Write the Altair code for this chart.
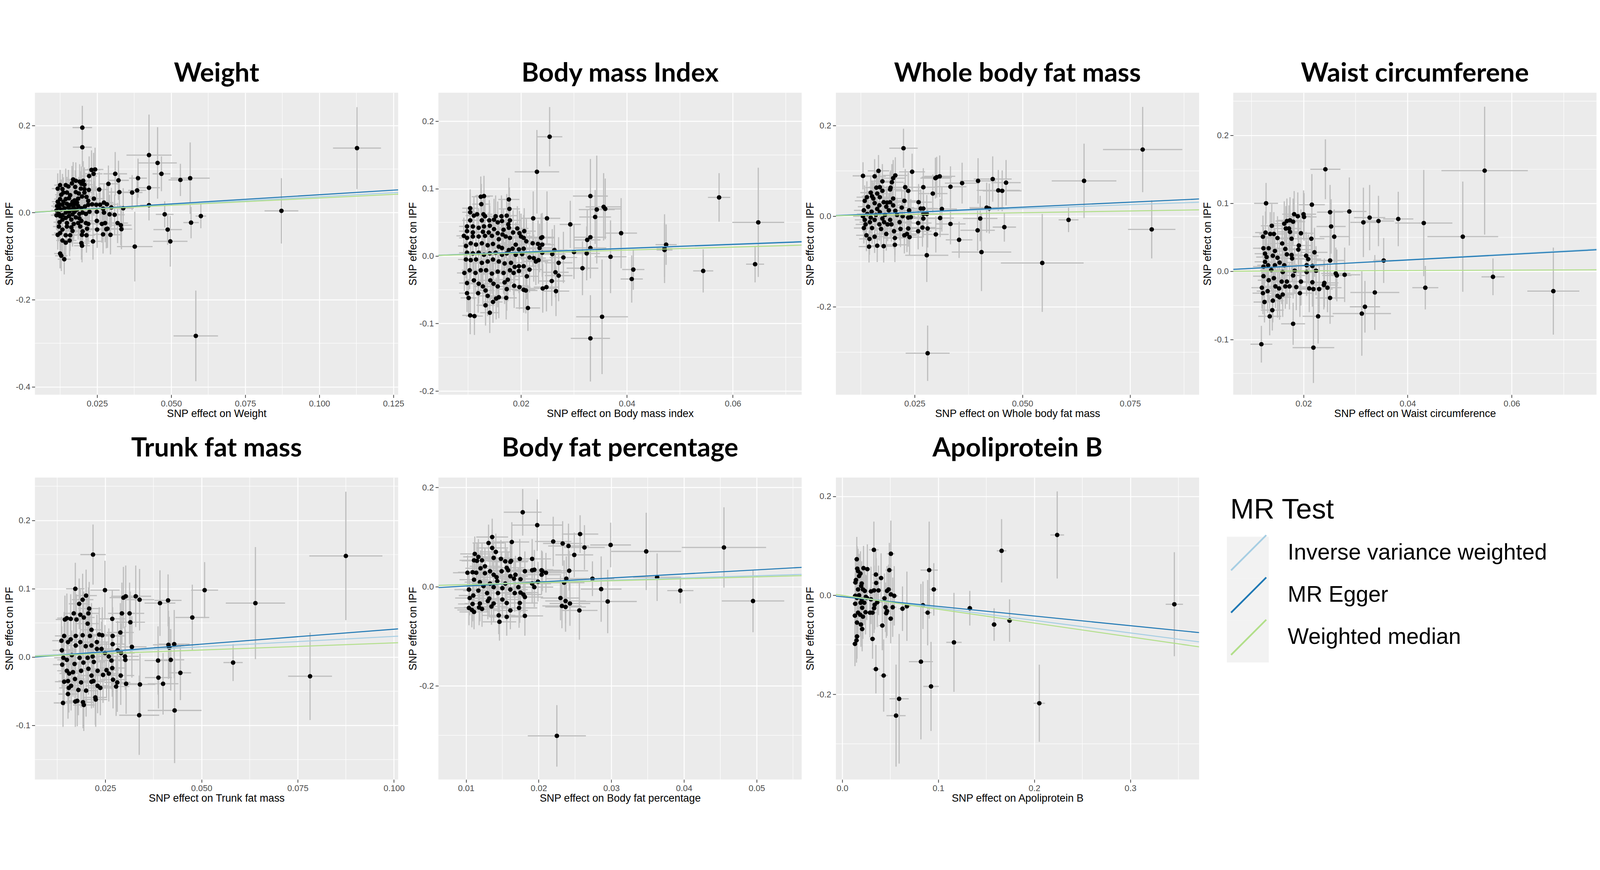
import altair as alt
import pandas as pd

PANEL_TITLES = ["Weight", "Body mass Index", "Whole body fat mass", "Waist circumferene",
                "Trunk fat mass", "Body fat percentage", "Apoliprotein B"]
X_TITLES = ["SNP effect on Weight", "SNP effect on Body mass index",
            "SNP effect on Whole body fat mass", "SNP effect on Waist circumference",
            "SNP effect on Trunk fat mass", "SNP effect on Body fat percentage",
            "SNP effect on Apoliprotein B"]
Y_TITLE = "SNP effect on IPF"

X_DOMAINS = [[0.0040, 0.1266], [0.0044, 0.0730], [0.0067, 0.0910], [0.0065, 0.0763],
             [0.0067, 0.1011], [0.0062, 0.0562], [-0.0067, 0.3716]]
Y_DOMAINS = [[-0.418, 0.275], [-0.2056, 0.2422], [-0.3935, 0.2722], [-0.1812, 0.2624],
             [-0.179, 0.2627], [-0.389, 0.220], [-0.372, 0.238]]
X_TICKS = [[0.025, 0.05, 0.075, 0.1, 0.125], [0.02, 0.04, 0.06], [0.025, 0.05, 0.075],
           [0.02, 0.04, 0.06], [0.025, 0.05, 0.075, 0.1], [0.01, 0.02, 0.03, 0.04, 0.05],
           [0.0, 0.1, 0.2, 0.3]]
X_MINOR = [[0.0125, 0.0375, 0.0625, 0.0875, 0.1125], [0.01, 0.03, 0.05, 0.07],
           [0.0125, 0.0375, 0.0625, 0.0875], [0.01, 0.03, 0.05, 0.07],
           [0.0125, 0.0375, 0.0625, 0.0875], [0.015, 0.025, 0.035, 0.045, 0.055],
           [0.05, 0.15, 0.25, 0.35]]
X_FORMATS = [".3f", ".2f", ".3f", ".2f", ".3f", ".2f", ".1f"]
Y_TICKS = [[-0.4, -0.2, 0.0, 0.2], [-0.2, -0.1, 0.0, 0.1, 0.2], [-0.2, 0.0, 0.2],
           [-0.1, 0.0, 0.1, 0.2], [-0.1, 0.0, 0.1, 0.2], [-0.2, 0.0, 0.2], [-0.2, 0.0, 0.2]]
Y_MINOR = [[-0.3, -0.1, 0.1], [-0.15, -0.05, 0.05, 0.15], [-0.3, -0.1, 0.1],
           [-0.15, -0.05, 0.05, 0.15, 0.25], [-0.15, -0.05, 0.05, 0.15, 0.25],
           [-0.3, -0.1, 0.1], [-0.3, -0.1, 0.1]]

METHODS = ["Inverse variance weighted", "MR Egger", "Weighted median"]
METHOD_COLORS = ["#A6CEE3", "#1F78B4", "#B2DF8A"]
KEY_IDS = ["key IVW", "key Egger", "key WM"]
KEY_BACKGROUND = ["#F2F2F2", "#F2F2F2", "#F2F2F2"]
IVW_SLOPE = [0.365, 0.299, 0.34, 0.43, 0.303, 0.438, -0.253]
EGGER_SLOPE = [0.42, 0.293, 0.44, 0.411, 0.4375, 0.816, -0.195]
EGGER_INTERCEPT = [-0.001, -0.0003, -0.002, 0.0003, -0.0029, -0.007, -0.0028]
WM_SLOPE = [0.335, 0.222, 0.155, 0.031, 0.208, 0.393, -0.28]

# (beta exposure, beta outcome, se exposure, se outcome)
WEIGHT_SNPS = [
    (0.0200, 0.195, 0.0033, 0.050), (0.0200, 0.150, 0.0032, 0.045), (0.0425, 0.132, 0.0076, 0.093),
    (0.0454, 0.114, 0.0065, 0.082), (0.0467, 0.089, 0.0030, 0.040), (0.0388, 0.079, 0.0030, 0.045),
    (0.0531, 0.075, 0.0040, 0.037), (0.0564, 0.079, 0.0066, 0.082), (0.1127, 0.148, 0.0081, 0.094),
    (0.0872, 0.004, 0.0057, 0.075), (0.0583, -0.283, 0.0075, 0.104), (0.0478, -0.004, 0.0030, 0.030),
    (0.0600, -0.008, 0.0018, 0.028), (0.0567, -0.023, 0.0026, 0.036), (0.0488, -0.039, 0.0048, 0.035),
    (0.0497, -0.066, 0.0058, 0.058), (0.0377, -0.078, 0.0060, 0.080), (0.0425, 0.057, 0.0037, 0.040),
    (0.0425, 0.017, 0.0030, 0.035), (0.0385, 0.051, 0.0030, 0.035),
    (0.0231, 0.098, 0.0030, 0.045), (0.0243, 0.099, 0.0028, 0.050), (0.0238, 0.089, 0.0030, 0.048),
    (0.0223, 0.084, 0.0027, 0.045), (0.0311, 0.089, 0.0040, 0.050), (0.0322, 0.074, 0.0035, 0.045),
    (0.0288, 0.066, 0.0033, 0.042), (0.0257, 0.053, 0.0030, 0.040), (0.0325, 0.047, 0.0035, 0.040),
    (0.0222, 0.052, 0.0028, 0.040), (0.0368, 0.046, 0.0035, 0.040), (0.0169, 0.076, 0.0025, 0.040),
    (0.0178, 0.073, 0.0026, 0.042), (0.0191, 0.071, 0.0027, 0.040), (0.0203, 0.073, 0.0028, 0.045),
    (0.0197, 0.066, 0.0027, 0.040), (0.0207, 0.064, 0.0028, 0.040), (0.0125, 0.063, 0.0020, 0.035),
    (0.0117, 0.055, 0.0020, 0.035), (0.0144, 0.063, 0.0022, 0.038), (0.0153, 0.060, 0.0023, 0.038),
    (0.0165, 0.067, 0.0024, 0.040), (0.0176, 0.059, 0.0025, 0.038), (0.0195, 0.055, 0.0027, 0.040),
    (0.0207, 0.054, 0.0028, 0.040), (0.0133, 0.054, 0.0021, 0.035), (0.0136, 0.046, 0.0021, 0.035),
    (0.0148, 0.046, 0.0022, 0.036), (0.0159, 0.040, 0.0023, 0.036), (0.0178, 0.047, 0.0025, 0.038),
    (0.0188, 0.044, 0.0026, 0.038), (0.0207, 0.046, 0.0028, 0.040), (0.0214, 0.036, 0.0028, 0.040),
    (0.0199, 0.037, 0.0027, 0.038), (0.0239, 0.032, 0.0030, 0.040), (0.0220, 0.027, 0.0028, 0.040),
    (0.0186, 0.032, 0.0026, 0.038), (0.0174, 0.028, 0.0025, 0.036), (0.0129, 0.041, 0.0021, 0.035),
    (0.0125, 0.031, 0.0020, 0.034), (0.0121, 0.020, 0.0020, 0.034), (0.0115, 0.015, 0.0020, 0.034),
    (0.0136, 0.025, 0.0021, 0.035), (0.0148, 0.020, 0.0022, 0.035), (0.0161, 0.018, 0.0023, 0.036),
    (0.0171, 0.012, 0.0024, 0.036), (0.0186, 0.015, 0.0026, 0.038), (0.0197, 0.010, 0.0027, 0.038),
    (0.0209, 0.014, 0.0028, 0.040), (0.0220, 0.018, 0.0028, 0.040), (0.0233, 0.019, 0.0030, 0.042),
    (0.0247, 0.018, 0.0030, 0.042), (0.0260, 0.018, 0.0031, 0.042), (0.0273, 0.023, 0.0032, 0.044),
    (0.0283, 0.019, 0.0033, 0.044), (0.0298, 0.012, 0.0034, 0.045), (0.0270, 0.009, 0.0032, 0.044),
    (0.0338, 0.010, 0.0036, 0.046), (0.0113, 0.005, 0.0019, 0.033), (0.0121, -0.003, 0.0020, 0.034),
    (0.0133, -0.006, 0.0021, 0.035), (0.0144, 0.000, 0.0022, 0.035), (0.0155, 0.002, 0.0023, 0.036),
    (0.0174, 0.002, 0.0025, 0.036), (0.0190, -0.003, 0.0026, 0.038), (0.0201, 0.000, 0.0027, 0.038),
    (0.0212, -0.003, 0.0028, 0.040), (0.0224, 0.002, 0.0029, 0.040), (0.0249, 0.002, 0.0030, 0.042),
    (0.0273, 0.000, 0.0032, 0.044), (0.0292, -0.004, 0.0033, 0.045), (0.0309, -0.005, 0.0034, 0.046),
    (0.0133, -0.016, 0.0021, 0.035), (0.0144, -0.012, 0.0022, 0.035), (0.0163, -0.016, 0.0024, 0.036),
    (0.0178, -0.011, 0.0025, 0.037), (0.0190, -0.013, 0.0026, 0.038), (0.0197, -0.019, 0.0027, 0.038),
    (0.0212, -0.024, 0.0028, 0.040), (0.0220, -0.026, 0.0028, 0.040), (0.0249, -0.019, 0.0030, 0.042),
    (0.0266, -0.026, 0.0032, 0.043), (0.0277, -0.024, 0.0032, 0.044), (0.0319, -0.024, 0.0035, 0.046),
    (0.0330, -0.029, 0.0036, 0.046), (0.0332, -0.038, 0.0036, 0.046), (0.0285, -0.037, 0.0033, 0.044),
    (0.0281, -0.038, 0.0033, 0.044), (0.0250, -0.039, 0.0030, 0.042), (0.0216, -0.037, 0.0028, 0.040),
    (0.0201, -0.043, 0.0027, 0.038), (0.0193, -0.032, 0.0026, 0.038), (0.0123, -0.022, 0.0020, 0.034),
    (0.0121, -0.032, 0.0020, 0.034), (0.0133, -0.039, 0.0021, 0.035), (0.0148, -0.032, 0.0022, 0.035),
    (0.0163, -0.034, 0.0024, 0.036), (0.0167, -0.042, 0.0024, 0.036), (0.0117, -0.051, 0.0020, 0.034),
    (0.0125, -0.047, 0.0020, 0.034), (0.0144, -0.052, 0.0022, 0.035), (0.0159, -0.052, 0.0023, 0.036),
    (0.0199, -0.051, 0.0027, 0.038), (0.0214, -0.052, 0.0028, 0.040), (0.0270, -0.050, 0.0032, 0.044),
    (0.0295, -0.051, 0.0034, 0.045), (0.0133, -0.064, 0.0021, 0.035), (0.0144, -0.069, 0.0022, 0.035),
    (0.0157, -0.064, 0.0023, 0.036), (0.0197, -0.070, 0.0027, 0.038), (0.0199, -0.076, 0.0027, 0.038),
    (0.0236, -0.066, 0.0030, 0.042), (0.0125, -0.094, 0.0020, 0.034), (0.0129, -0.099, 0.0021, 0.035),
    (0.0139, -0.107, 0.0022, 0.035), (0.0121, 0.012, 0.0020, 0.034), (0.0129, 0.007, 0.0021, 0.035),
    (0.0140, 0.010, 0.0022, 0.035), (0.0153, 0.012, 0.0023, 0.036), (0.0163, 0.007, 0.0024, 0.036),
    (0.0174, 0.020, 0.0025, 0.036), (0.0133, 0.018, 0.0021, 0.035), (0.0144, 0.031, 0.0022, 0.035),
    (0.0155, 0.033, 0.0023, 0.036), (0.0167, 0.025, 0.0024, 0.036), (0.0182, 0.023, 0.0026, 0.038),
    (0.0117, 0.025, 0.0020, 0.034), (0.0125, -0.008, 0.0020, 0.034), (0.0155, -0.008, 0.0023, 0.036),
    (0.0167, -0.004, 0.0024, 0.036), (0.0113, -0.006, 0.0019, 0.033), (0.0182, 0.007, 0.0026, 0.038),
    (0.0148, -0.024, 0.0022, 0.035), (0.0171, -0.026, 0.0024, 0.036), (0.0186, -0.024, 0.0026, 0.038),
]

BMI_SNPS = [
    (0.0254, 0.177, 0.0024, 0.044), (0.0230, 0.125, 0.0042, 0.062), (0.0331, 0.089, 0.0033, 0.055),
    (0.0343, 0.069, 0.0034, 0.080), (0.0340, 0.058, 0.0030, 0.040), (0.0356, 0.073, 0.0034, 0.050),
    (0.0359, 0.070, 0.0030, 0.045), (0.0389, 0.034, 0.0030, 0.052), (0.0293, 0.047, 0.0020, 0.035),
    (0.0249, 0.056, 0.0025, 0.040), (0.0223, 0.056, 0.0022, 0.040), (0.0325, 0.024, 0.0025, 0.045),
    (0.0331, 0.028, 0.0030, 0.050), (0.0331, 0.012, 0.0030, 0.045), (0.0324, 0.004, 0.0025, 0.040),
    (0.0300, 0.006, 0.0030, 0.040), (0.0369, -0.001, 0.0030, 0.054), (0.0316, -0.018, 0.0030, 0.040),
    (0.0412, -0.020, 0.0021, 0.030), (0.0409, -0.034, 0.0021, 0.035), (0.0353, -0.090, 0.0049, 0.085),
    (0.0331, -0.122, 0.0037, 0.064), (0.0471, 0.011, 0.0015, 0.051), (0.0471, 0.009, 0.0015, 0.040),
    (0.0474, 0.017, 0.0020, 0.030), (0.0574, 0.087, 0.0021, 0.036), (0.0648, 0.050, 0.0049, 0.081),
    (0.0642, -0.012, 0.0017, 0.027), (0.0544, -0.022, 0.0019, 0.032),
    (0.0124, 0.088, 0.0017, 0.030), (0.0130, 0.089, 0.0017, 0.030), (0.0125, 0.077, 0.0017, 0.030),
    (0.0177, 0.084, 0.0020, 0.032), (0.0178, 0.070, 0.0020, 0.032), (0.0104, 0.071, 0.0015, 0.028),
    (0.0104, 0.065, 0.0015, 0.028), (0.0111, 0.060, 0.0016, 0.028), (0.0117, 0.062, 0.0016, 0.029),
    (0.0129, 0.062, 0.0017, 0.030), (0.0132, 0.059, 0.0017, 0.030), (0.0152, 0.059, 0.0018, 0.031),
    (0.0163, 0.059, 0.0019, 0.031), (0.0173, 0.060, 0.0020, 0.032), (0.0104, 0.053, 0.0015, 0.028),
    (0.0126, 0.053, 0.0017, 0.030), (0.0140, 0.053, 0.0018, 0.030), (0.0149, 0.054, 0.0018, 0.031),
    (0.0156, 0.050, 0.0019, 0.031), (0.0164, 0.052, 0.0019, 0.031), (0.0179, 0.053, 0.0020, 0.032),
    (0.0176, 0.047, 0.0020, 0.032), (0.0177, 0.042, 0.0020, 0.032), (0.0098, 0.044, 0.0015, 0.028),
    (0.0109, 0.044, 0.0016, 0.028), (0.0120, 0.042, 0.0016, 0.029), (0.0130, 0.044, 0.0017, 0.030),
    (0.0141, 0.045, 0.0018, 0.030), (0.0149, 0.040, 0.0018, 0.031), (0.0167, 0.039, 0.0019, 0.031),
    (0.0098, 0.037, 0.0015, 0.028), (0.0109, 0.035, 0.0016, 0.028), (0.0128, 0.036, 0.0017, 0.030),
    (0.0139, 0.035, 0.0018, 0.030), (0.0156, 0.034, 0.0019, 0.031), (0.0165, 0.032, 0.0019, 0.031),
    (0.0185, 0.035, 0.0021, 0.033), (0.0193, 0.041, 0.0021, 0.033), (0.0197, 0.034, 0.0021, 0.033),
    (0.0206, 0.037, 0.0022, 0.034), (0.0092, 0.030, 0.0014, 0.027), (0.0098, 0.027, 0.0015, 0.028),
    (0.0109, 0.029, 0.0016, 0.028), (0.0120, 0.029, 0.0016, 0.029), (0.0132, 0.030, 0.0017, 0.030),
    (0.0145, 0.030, 0.0018, 0.030), (0.0158, 0.025, 0.0019, 0.031), (0.0171, 0.029, 0.0020, 0.032),
    (0.0179, 0.027, 0.0020, 0.032), (0.0200, 0.029, 0.0022, 0.034), (0.0205, 0.027, 0.0022, 0.034),
    (0.0210, 0.022, 0.0022, 0.034), (0.0222, 0.019, 0.0023, 0.035), (0.0238, 0.027, 0.0024, 0.036),
    (0.0240, 0.028, 0.0024, 0.036), (0.0232, 0.018, 0.0024, 0.035), (0.0240, 0.017, 0.0024, 0.036),
    (0.0235, 0.012, 0.0024, 0.036), (0.0096, 0.015, 0.0015, 0.028), (0.0105, 0.019, 0.0015, 0.028),
    (0.0115, 0.017, 0.0016, 0.029), (0.0126, 0.019, 0.0017, 0.030), (0.0137, 0.016, 0.0017, 0.030),
    (0.0147, 0.018, 0.0018, 0.031), (0.0158, 0.014, 0.0019, 0.031), (0.0164, 0.012, 0.0019, 0.031),
    (0.0177, 0.009, 0.0020, 0.032), (0.0184, 0.011, 0.0020, 0.032), (0.0190, 0.017, 0.0021, 0.033),
    (0.0196, 0.010, 0.0021, 0.033), (0.0205, 0.011, 0.0022, 0.034), (0.0098, 0.005, 0.0015, 0.028),
    (0.0109, 0.004, 0.0016, 0.028), (0.0120, 0.005, 0.0016, 0.029), (0.0130, 0.002, 0.0017, 0.030),
    (0.0141, 0.004, 0.0018, 0.030), (0.0152, 0.005, 0.0018, 0.031), (0.0164, 0.002, 0.0019, 0.031),
    (0.0173, 0.004, 0.0020, 0.032), (0.0190, 0.002, 0.0021, 0.033), (0.0202, 0.003, 0.0022, 0.034),
    (0.0216, -0.002, 0.0023, 0.034), (0.0224, -0.003, 0.0023, 0.035), (0.0228, -0.008, 0.0023, 0.035),
    (0.0233, -0.006, 0.0024, 0.035), (0.0240, 0.005, 0.0024, 0.036), (0.0259, 0.003, 0.0025, 0.037),
    (0.0263, 0.009, 0.0025, 0.037), (0.0280, -0.002, 0.0026, 0.038), (0.0271, -0.010, 0.0026, 0.038),
    (0.0265, -0.024, 0.0025, 0.037), (0.0271, -0.029, 0.0026, 0.038), (0.0258, -0.037, 0.0025, 0.037),
    (0.0248, -0.046, 0.0024, 0.036), (0.0241, -0.048, 0.0024, 0.036), (0.0266, -0.052, 0.0025, 0.037),
    (0.0096, -0.005, 0.0015, 0.028), (0.0105, -0.006, 0.0015, 0.028), (0.0115, -0.005, 0.0016, 0.029),
    (0.0126, -0.010, 0.0017, 0.030), (0.0137, -0.008, 0.0017, 0.030), (0.0147, -0.005, 0.0018, 0.031),
    (0.0158, -0.008, 0.0019, 0.031), (0.0169, -0.011, 0.0020, 0.032), (0.0181, -0.010, 0.0020, 0.032),
    (0.0188, -0.016, 0.0021, 0.033), (0.0196, -0.015, 0.0021, 0.033), (0.0205, -0.015, 0.0022, 0.034),
    (0.0216, -0.020, 0.0023, 0.034), (0.0179, -0.021, 0.0020, 0.032), (0.0093, -0.025, 0.0014, 0.027),
    (0.0103, -0.021, 0.0015, 0.028), (0.0114, -0.025, 0.0016, 0.029), (0.0124, -0.021, 0.0017, 0.030),
    (0.0134, -0.021, 0.0017, 0.030), (0.0145, -0.026, 0.0018, 0.030), (0.0156, -0.023, 0.0019, 0.031),
    (0.0167, -0.025, 0.0019, 0.031), (0.0186, -0.025, 0.0021, 0.033), (0.0196, -0.022, 0.0021, 0.033),
    (0.0211, -0.030, 0.0022, 0.034), (0.0098, -0.040, 0.0015, 0.028), (0.0111, -0.036, 0.0016, 0.028),
    (0.0120, -0.041, 0.0016, 0.029), (0.0128, -0.045, 0.0017, 0.030), (0.0142, -0.036, 0.0018, 0.030),
    (0.0148, -0.041, 0.0018, 0.031), (0.0156, -0.045, 0.0019, 0.031), (0.0169, -0.039, 0.0020, 0.032),
    (0.0175, -0.035, 0.0020, 0.032), (0.0187, -0.044, 0.0021, 0.033), (0.0197, -0.046, 0.0021, 0.033),
    (0.0205, -0.050, 0.0022, 0.034), (0.0209, -0.051, 0.0022, 0.034), (0.0173, -0.049, 0.0020, 0.032),
    (0.0133, -0.051, 0.0017, 0.030), (0.0098, -0.055, 0.0015, 0.028), (0.0119, -0.055, 0.0016, 0.029),
    (0.0137, -0.059, 0.0017, 0.030), (0.0101, -0.062, 0.0015, 0.028), (0.0147, -0.068, 0.0018, 0.031),
    (0.0153, -0.063, 0.0018, 0.031), (0.0158, -0.061, 0.0019, 0.031), (0.0172, -0.062, 0.0020, 0.032),
    (0.0133, -0.073, 0.0017, 0.030), (0.0213, -0.077, 0.0023, 0.034), (0.0141, -0.084, 0.0018, 0.030),
    (0.0104, -0.088, 0.0015, 0.028), (0.0112, -0.089, 0.0016, 0.028),
]

WBFM_SNPS = [
    (0.0224, 0.150, 0.0033, 0.043), (0.0244, 0.098, 0.0030, 0.040), (0.0130, 0.089, 0.0024, 0.030),
    (0.0157, 0.088, 0.0026, 0.038), (0.0166, 0.100, 0.0025, 0.035), (0.0175, 0.077, 0.0026, 0.038),
    (0.0205, 0.090, 0.0028, 0.040), (0.0200, 0.084, 0.0028, 0.040), (0.0197, 0.075, 0.0027, 0.040),
    (0.0193, 0.059, 0.0027, 0.038), (0.0194, 0.063, 0.0027, 0.038), (0.0161, 0.063, 0.0025, 0.036),
    (0.0169, 0.064, 0.0026, 0.036), (0.0175, 0.056, 0.0026, 0.036), (0.0228, 0.064, 0.0030, 0.040),
    (0.0235, 0.056, 0.0030, 0.040), (0.0270, 0.064, 0.0033, 0.042), (0.0292, 0.050, 0.0034, 0.042),
    (0.0298, 0.084, 0.0035, 0.045), (0.0301, 0.086, 0.0035, 0.045), (0.0308, 0.088, 0.0036, 0.046),
    (0.0333, 0.065, 0.0037, 0.045), (0.0360, 0.073, 0.0040, 0.045), (0.0397, 0.078, 0.0042, 0.050),
    (0.0431, 0.082, 0.0044, 0.050), (0.0462, 0.074, 0.0034, 0.050), (0.0444, 0.057, 0.0050, 0.045),
    (0.0453, 0.056, 0.0045, 0.045), (0.0643, 0.078, 0.0075, 0.082), (0.0779, 0.147, 0.0092, 0.094),
    (0.0800, -0.029, 0.0055, 0.064), (0.0607, -0.008, 0.0023, 0.027), (0.0546, -0.103, 0.0096, 0.108),
    (0.0280, -0.302, 0.0051, 0.061), (0.0278, -0.086, 0.0050, 0.059), (0.0405, -0.079, 0.0069, 0.086),
    (0.0353, -0.052, 0.0031, 0.040), (0.0299, -0.040, 0.0030, 0.040), (0.0333, -0.017, 0.0035, 0.045),
    (0.0309, -0.004, 0.0032, 0.042), (0.0313, 0.016, 0.0035, 0.050), (0.0396, -0.031, 0.0040, 0.045),
    (0.0402, -0.005, 0.0040, 0.050), (0.0458, -0.024, 0.0027, 0.032), (0.0417, 0.019, 0.0040, 0.055),
    (0.0423, 0.017, 0.0045, 0.055), (0.0270, 0.005, 0.0033, 0.042), (0.0270, 0.017, 0.0033, 0.042),
    (0.0264, 0.017, 0.0032, 0.042), (0.0278, 0.005, 0.0033, 0.042), (0.0270, -0.005, 0.0033, 0.042),
    (0.0268, -0.025, 0.0032, 0.042), (0.0259, 0.031, 0.0031, 0.040), (0.0280, -0.027, 0.0033, 0.042),
    (0.0258, -0.015, 0.0031, 0.040), (0.0258, -0.033, 0.0031, 0.040), (0.0238, -0.046, 0.0030, 0.040),
    (0.0232, -0.039, 0.0030, 0.040), (0.0235, -0.027, 0.0030, 0.040), (0.0226, -0.042, 0.0029, 0.040),
    (0.0217, -0.028, 0.0029, 0.040), (0.0204, -0.048, 0.0028, 0.038), (0.0204, -0.063, 0.0028, 0.038),
    (0.0178, -0.066, 0.0026, 0.036), (0.0163, -0.065, 0.0025, 0.036), (0.0144, -0.067, 0.0024, 0.035),
    (0.0138, -0.042, 0.0024, 0.035), (0.0145, -0.050, 0.0024, 0.035), (0.0157, -0.045, 0.0025, 0.036),
    (0.0184, -0.039, 0.0027, 0.037), (0.0202, -0.033, 0.0028, 0.038), (0.0132, -0.026, 0.0023, 0.034),
    (0.0226, 0.034, 0.0029, 0.040), (0.0237, 0.013, 0.0030, 0.040), (0.0235, -0.003, 0.0030, 0.040),
    (0.0241, -0.002, 0.0030, 0.040), (0.0220, 0.019, 0.0029, 0.040), (0.0222, 0.000, 0.0029, 0.040),
    (0.0215, -0.013, 0.0029, 0.040), (0.0205, 0.012, 0.0028, 0.038), (0.0209, 0.003, 0.0028, 0.038),
    (0.0200, 0.024, 0.0028, 0.038), (0.0200, 0.039, 0.0028, 0.038), (0.0193, 0.031, 0.0027, 0.038),
    (0.0134, 0.034, 0.0023, 0.034), (0.0142, 0.021, 0.0024, 0.035), (0.0151, 0.044, 0.0024, 0.035),
    (0.0157, 0.029, 0.0025, 0.036), (0.0168, 0.024, 0.0026, 0.036), (0.0178, 0.031, 0.0026, 0.037),
    (0.0184, 0.021, 0.0027, 0.037), (0.0132, 0.013, 0.0023, 0.034), (0.0140, 0.005, 0.0024, 0.035),
    (0.0150, 0.010, 0.0024, 0.035), (0.0160, 0.003, 0.0025, 0.036), (0.0169, 0.009, 0.0026, 0.036),
    (0.0181, 0.003, 0.0027, 0.037), (0.0190, 0.013, 0.0027, 0.038), (0.0134, -0.008, 0.0023, 0.034),
    (0.0146, -0.013, 0.0024, 0.035), (0.0157, -0.008, 0.0025, 0.036), (0.0168, -0.018, 0.0026, 0.036),
    (0.0179, -0.013, 0.0026, 0.037), (0.0187, -0.018, 0.0027, 0.037), (0.0136, -0.018, 0.0023, 0.034),
    (0.0151, -0.026, 0.0024, 0.035), (0.0172, -0.028, 0.0026, 0.036), (0.0148, 0.052, 0.0024, 0.035),
    (0.0154, 0.039, 0.0025, 0.036), (0.0169, 0.042, 0.0026, 0.036), (0.0186, 0.030, 0.0027, 0.037),
    (0.0163, 0.050, 0.0025, 0.036), (0.0139, 0.042, 0.0024, 0.035), (0.0130, 0.000, 0.0023, 0.034),
    (0.0163, 0.016, 0.0025, 0.036), (0.0175, -0.005, 0.0026, 0.036), (0.0148, -0.003, 0.0024, 0.035),
    (0.0193, -0.008, 0.0027, 0.038), (0.0196, -0.018, 0.0027, 0.038),
]

WAIST_SNPS = [
    (0.0128, 0.100, 0.0023, 0.030), (0.0242, 0.150, 0.0029, 0.044), (0.0548, 0.148, 0.0083, 0.094),
    (0.0216, 0.098, 0.0025, 0.045), (0.0251, 0.087, 0.0025, 0.040), (0.0288, 0.088, 0.0033, 0.050),
    (0.0315, 0.072, 0.0025, 0.051), (0.0327, 0.079, 0.0030, 0.048), (0.0344, 0.074, 0.0030, 0.037),
    (0.0382, 0.077, 0.0029, 0.040), (0.0431, 0.071, 0.0055, 0.078), (0.0506, 0.051, 0.0068, 0.081),
    (0.0354, 0.016, 0.0020, 0.033), (0.0434, -0.024, 0.0025, 0.032), (0.0564, -0.008, 0.0022, 0.027),
    (0.0680, -0.029, 0.0050, 0.064), (0.0337, -0.031, 0.0047, 0.055), (0.0318, -0.052, 0.0029, 0.038),
    (0.0312, -0.062, 0.0056, 0.062), (0.0228, -0.066, 0.0030, 0.040), (0.0219, -0.112, 0.0040, 0.052),
    (0.0119, -0.107, 0.0021, 0.027), (0.0180, -0.077, 0.0023, 0.031), (0.0135, -0.066, 0.0022, 0.028),
    (0.0140, -0.057, 0.0022, 0.030), (0.0125, -0.045, 0.0021, 0.030), (0.0251, -0.039, 0.0028, 0.038),
    (0.0246, -0.024, 0.0027, 0.036), (0.0230, -0.026, 0.0026, 0.035), (0.0240, -0.017, 0.0027, 0.036),
    (0.0239, -0.020, 0.0027, 0.036), (0.0259, 0.051, 0.0028, 0.040), (0.0253, 0.066, 0.0028, 0.040),
    (0.0251, 0.016, 0.0028, 0.038), (0.0262, -0.003, 0.0028, 0.038), (0.0264, -0.006, 0.0028, 0.038),
    (0.0279, -0.005, 0.0030, 0.040), (0.0221, 0.028, 0.0025, 0.036), (0.0215, 0.048, 0.0025, 0.036),
    (0.0200, 0.084, 0.0024, 0.035), (0.0201, 0.080, 0.0024, 0.035), (0.0189, 0.081, 0.0024, 0.035),
    (0.0182, 0.084, 0.0023, 0.034), (0.0180, 0.073, 0.0023, 0.034), (0.0174, 0.075, 0.0023, 0.034),
    (0.0168, 0.074, 0.0022, 0.033), (0.0163, 0.070, 0.0022, 0.033), (0.0166, 0.063, 0.0022, 0.033),
    (0.0172, 0.063, 0.0023, 0.034), (0.0174, 0.058, 0.0023, 0.034), (0.0177, 0.048, 0.0023, 0.034),
    (0.0195, 0.056, 0.0024, 0.035), (0.0191, 0.038, 0.0024, 0.035), (0.0190, 0.032, 0.0024, 0.035),
    (0.0205, 0.023, 0.0024, 0.035), (0.0209, 0.018, 0.0025, 0.036), (0.0206, 0.009, 0.0024, 0.035),
    (0.0217, 0.008, 0.0025, 0.036), (0.0224, 0.001, 0.0025, 0.036), (0.0206, -0.001, 0.0024, 0.035),
    (0.0195, -0.015, 0.0024, 0.035), (0.0186, -0.023, 0.0023, 0.034), (0.0193, -0.032, 0.0024, 0.035),
    (0.0211, -0.025, 0.0025, 0.035), (0.0217, -0.016, 0.0025, 0.036), (0.0219, -0.026, 0.0025, 0.036),
    (0.0180, -0.006, 0.0023, 0.034), (0.0183, 0.001, 0.0023, 0.034), (0.0178, 0.019, 0.0023, 0.034),
    (0.0177, 0.024, 0.0023, 0.034), (0.0168, 0.025, 0.0022, 0.033), (0.0165, 0.033, 0.0022, 0.033),
    (0.0159, 0.041, 0.0022, 0.033), (0.0150, 0.049, 0.0021, 0.032), (0.0143, 0.055, 0.0021, 0.032),
    (0.0139, 0.067, 0.0021, 0.032), (0.0136, 0.055, 0.0021, 0.032), (0.0127, 0.057, 0.0020, 0.031),
    (0.0122, 0.051, 0.0020, 0.031), (0.0123, 0.034, 0.0020, 0.031), (0.0126, 0.026, 0.0020, 0.031),
    (0.0133, 0.034, 0.0021, 0.032), (0.0129, 0.021, 0.0020, 0.031), (0.0126, 0.014, 0.0020, 0.031),
    (0.0123, 0.007, 0.0020, 0.031), (0.0123, -0.007, 0.0020, 0.031), (0.0120, -0.024, 0.0020, 0.031),
    (0.0122, -0.032, 0.0020, 0.031), (0.0132, 0.009, 0.0021, 0.032), (0.0138, 0.002, 0.0021, 0.032),
    (0.0143, -0.010, 0.0021, 0.032), (0.0146, -0.022, 0.0021, 0.032), (0.0150, -0.036, 0.0021, 0.032),
    (0.0141, -0.043, 0.0021, 0.032), (0.0154, -0.038, 0.0022, 0.033), (0.0160, -0.034, 0.0022, 0.033),
    (0.0165, -0.022, 0.0022, 0.033), (0.0168, -0.015, 0.0022, 0.033), (0.0154, 0.013, 0.0022, 0.033),
    (0.0150, 0.020, 0.0021, 0.032), (0.0160, -0.001, 0.0022, 0.033), (0.0163, 0.009, 0.0022, 0.033),
    (0.0145, 0.030, 0.0021, 0.032), (0.0141, 0.023, 0.0021, 0.032), (0.0145, 0.009, 0.0021, 0.032),
    (0.0133, -0.013, 0.0021, 0.032), (0.0131, -0.029, 0.0021, 0.032), (0.0153, -0.025, 0.0022, 0.033),
    (0.0173, -0.022, 0.0023, 0.034), (0.0158, -0.015, 0.0022, 0.033),
]

TRUNK_SNPS = [
    (0.0218, 0.150, 0.0033, 0.044), (0.0172, 0.100, 0.0024, 0.038), (0.0249, 0.098, 0.0038, 0.043),
    (0.0508, 0.098, 0.0035, 0.041), (0.0875, 0.148, 0.0095, 0.094), (0.0640, 0.079, 0.0077, 0.082),
    (0.0476, 0.058, 0.0044, 0.048), (0.0582, -0.008, 0.0025, 0.027), (0.0782, -0.028, 0.0057, 0.064),
    (0.0338, -0.085, 0.0052, 0.058), (0.0430, -0.078, 0.0070, 0.077), (0.0340, -0.040, 0.0040, 0.045),
    (0.0400, -0.039, 0.0040, 0.045), (0.0445, -0.023, 0.0028, 0.040), (0.0420, -0.004, 0.0035, 0.045),
    (0.0387, -0.005, 0.0035, 0.050), (0.0388, -0.030, 0.0035, 0.045), (0.0429, 0.019, 0.0040, 0.050),
    (0.0414, 0.018, 0.0040, 0.050), (0.0416, 0.014, 0.0040, 0.045), (0.0392, 0.079, 0.0040, 0.048),
    (0.0413, 0.083, 0.0035, 0.038), (0.0329, 0.089, 0.0040, 0.045), (0.0339, 0.084, 0.0038, 0.045),
    (0.0303, 0.089, 0.0038, 0.045), (0.0297, 0.087, 0.0036, 0.045), (0.0293, 0.064, 0.0036, 0.045),
    (0.0313, 0.064, 0.0038, 0.045), (0.0315, 0.051, 0.0038, 0.045), (0.0289, 0.036, 0.0035, 0.043),
    (0.0319, 0.015, 0.0038, 0.045), (0.0301, 0.001, 0.0036, 0.044), (0.0302, -0.004, 0.0036, 0.044),
    (0.0304, -0.039, 0.0036, 0.044), (0.0290, -0.027, 0.0035, 0.043), (0.0281, -0.037, 0.0034, 0.043),
    (0.0278, -0.043, 0.0034, 0.043), (0.0270, -0.033, 0.0033, 0.042), (0.0268, -0.016, 0.0033, 0.042),
    (0.0266, -0.005, 0.0033, 0.042), (0.0269, 0.019, 0.0033, 0.042), (0.0269, 0.031, 0.0033, 0.042),
    (0.0268, 0.056, 0.0033, 0.042), (0.0282, 0.010, 0.0034, 0.043), (0.0291, 0.006, 0.0035, 0.043),
    (0.0259, -0.024, 0.0032, 0.041), (0.0244, -0.026, 0.0031, 0.041), (0.0237, -0.045, 0.0030, 0.040),
    (0.0230, -0.042, 0.0030, 0.040), (0.0224, -0.059, 0.0030, 0.040), (0.0225, -0.062, 0.0030, 0.040),
    (0.0200, -0.049, 0.0028, 0.038), (0.0194, -0.070, 0.0028, 0.038), (0.0192, -0.066, 0.0028, 0.038),
    (0.0177, -0.064, 0.0026, 0.037), (0.0172, -0.065, 0.0026, 0.037), (0.0140, -0.067, 0.0024, 0.035),
    (0.0153, -0.054, 0.0025, 0.036), (0.0155, -0.045, 0.0025, 0.036), (0.0143, -0.036, 0.0024, 0.035),
    (0.0161, -0.042, 0.0025, 0.036), (0.0180, -0.048, 0.0027, 0.037), (0.0187, -0.037, 0.0027, 0.037),
    (0.0171, -0.032, 0.0026, 0.037), (0.0214, -0.036, 0.0029, 0.039), (0.0219, -0.035, 0.0029, 0.039),
    (0.0230, -0.020, 0.0030, 0.040), (0.0253, -0.019, 0.0032, 0.041), (0.0214, -0.027, 0.0029, 0.039),
    (0.0206, -0.017, 0.0028, 0.038), (0.0187, -0.020, 0.0027, 0.037), (0.0166, -0.022, 0.0026, 0.036),
    (0.0150, -0.020, 0.0025, 0.036), (0.0138, -0.011, 0.0024, 0.035), (0.0141, -0.001, 0.0024, 0.035),
    (0.0137, 0.010, 0.0024, 0.035), (0.0136, 0.024, 0.0024, 0.035), (0.0143, 0.031, 0.0024, 0.035),
    (0.0145, 0.055, 0.0024, 0.035), (0.0150, 0.057, 0.0025, 0.036), (0.0160, 0.056, 0.0025, 0.036),
    (0.0168, 0.064, 0.0026, 0.037), (0.0175, 0.055, 0.0026, 0.037), (0.0182, 0.078, 0.0027, 0.037),
    (0.0191, 0.084, 0.0028, 0.038), (0.0200, 0.090, 0.0028, 0.038), (0.0208, 0.071, 0.0029, 0.039),
    (0.0206, 0.064, 0.0028, 0.038), (0.0185, 0.062, 0.0027, 0.037), (0.0194, 0.058, 0.0028, 0.038),
    (0.0204, 0.049, 0.0028, 0.038), (0.0214, 0.040, 0.0029, 0.039), (0.0234, 0.033, 0.0030, 0.040),
    (0.0242, 0.032, 0.0031, 0.041), (0.0228, 0.022, 0.0030, 0.040), (0.0210, 0.031, 0.0029, 0.039),
    (0.0191, 0.032, 0.0028, 0.038), (0.0173, 0.031, 0.0026, 0.037), (0.0160, 0.026, 0.0025, 0.036),
    (0.0153, 0.022, 0.0025, 0.036), (0.0173, 0.017, 0.0026, 0.037), (0.0185, 0.022, 0.0027, 0.037),
    (0.0199, 0.016, 0.0028, 0.038), (0.0214, 0.017, 0.0029, 0.039), (0.0228, 0.012, 0.0030, 0.040),
    (0.0240, 0.012, 0.0031, 0.040), (0.0249, 0.006, 0.0032, 0.041), (0.0259, 0.001, 0.0032, 0.041),
    (0.0217, 0.001, 0.0029, 0.039), (0.0204, -0.001, 0.0028, 0.038), (0.0183, -0.001, 0.0027, 0.037),
    (0.0163, 0.003, 0.0025, 0.036), (0.0150, -0.004, 0.0025, 0.036), (0.0170, -0.010, 0.0026, 0.037),
    (0.0193, -0.008, 0.0028, 0.038), (0.0220, -0.007, 0.0029, 0.039), (0.0156, -0.024, 0.0025, 0.036),
    (0.0153, -0.035, 0.0025, 0.036),
]

BFP_SNPS = [
    (0.0178, 0.150, 0.0026, 0.047), (0.0198, 0.124, 0.0035, 0.052), (0.0225, -0.301, 0.0040, 0.062),
    (0.0220, 0.091, 0.0025, 0.050), (0.0233, 0.087, 0.0027, 0.045), (0.0241, 0.082, 0.0028, 0.045),
    (0.0257, 0.106, 0.0025, 0.038), (0.0263, 0.079, 0.0028, 0.045), (0.0249, 0.064, 0.0026, 0.045),
    (0.0299, 0.084, 0.0028, 0.045), (0.0348, 0.071, 0.0048, 0.078), (0.0455, 0.079, 0.0058, 0.081),
    (0.0363, 0.019, 0.0033, 0.048), (0.0395, -0.008, 0.0018, 0.026), (0.0495, -0.029, 0.0043, 0.063),
    (0.0274, 0.016, 0.0030, 0.035), (0.0286, -0.005, 0.0028, 0.066), (0.0295, -0.030, 0.0040, 0.064),
    (0.0256, -0.048, 0.0025, 0.059), (0.0242, 0.032, 0.0026, 0.040), (0.0238, 0.016, 0.0028, 0.045),
    (0.0235, 0.008, 0.0028, 0.045), (0.0230, -0.023, 0.0027, 0.045), (0.0232, -0.039, 0.0027, 0.045),
    (0.0237, -0.029, 0.0028, 0.045), (0.0237, -0.041, 0.0028, 0.050), (0.0243, -0.034, 0.0028, 0.045),
    (0.0204, 0.033, 0.0027, 0.040), (0.0205, 0.031, 0.0027, 0.040), (0.0204, 0.024, 0.0027, 0.040),
    (0.0210, 0.028, 0.0027, 0.040), (0.0199, 0.010, 0.0026, 0.040), (0.0194, -0.001, 0.0026, 0.040),
    (0.0191, 0.006, 0.0026, 0.040), (0.0191, 0.033, 0.0026, 0.040), (0.0194, 0.034, 0.0026, 0.040),
    (0.0191, 0.056, 0.0026, 0.040), (0.0181, 0.031, 0.0025, 0.040), (0.0181, -0.059, 0.0025, 0.040),
    (0.0181, -0.021, 0.0025, 0.040), (0.0179, -0.016, 0.0025, 0.040), (0.0175, -0.012, 0.0025, 0.040),
    (0.0174, -0.033, 0.0025, 0.040), (0.0173, -0.043, 0.0025, 0.040), (0.0174, 0.056, 0.0025, 0.040),
    (0.0163, 0.090, 0.0024, 0.040), (0.0161, 0.050, 0.0024, 0.038), (0.0162, 0.052, 0.0024, 0.038),
    (0.0156, 0.038, 0.0024, 0.038), (0.0154, 0.051, 0.0024, 0.038), (0.0148, 0.056, 0.0023, 0.038),
    (0.0138, 0.058, 0.0022, 0.037), (0.0141, 0.070, 0.0022, 0.037), (0.0136, 0.078, 0.0022, 0.037),
    (0.0131, 0.088, 0.0022, 0.037), (0.0136, 0.100, 0.0022, 0.037), (0.0168, 0.024, 0.0024, 0.038),
    (0.0166, 0.016, 0.0024, 0.038), (0.0161, 0.021, 0.0024, 0.038), (0.0158, 0.033, 0.0024, 0.038),
    (0.0149, 0.031, 0.0023, 0.038), (0.0175, 0.015, 0.0025, 0.039), (0.0156, -0.033, 0.0024, 0.038),
    (0.0156, -0.061, 0.0024, 0.038), (0.0161, -0.048, 0.0024, 0.038), (0.0146, -0.071, 0.0023, 0.038),
    (0.0145, -0.058, 0.0023, 0.038), (0.0150, -0.026, 0.0023, 0.038), (0.0150, -0.003, 0.0023, 0.038),
    (0.0144, -0.013, 0.0023, 0.038), (0.0138, -0.034, 0.0022, 0.037), (0.0135, -0.040, 0.0022, 0.037),
    (0.0132, -0.024, 0.0022, 0.037), (0.0130, -0.029, 0.0022, 0.037), (0.0129, -0.013, 0.0022, 0.037),
    (0.0122, -0.045, 0.0021, 0.036), (0.0119, -0.034, 0.0021, 0.036), (0.0118, -0.042, 0.0021, 0.036),
    (0.0111, -0.051, 0.0020, 0.035), (0.0108, -0.047, 0.0020, 0.035), (0.0104, -0.043, 0.0020, 0.035),
    (0.0109, -0.035, 0.0020, 0.035), (0.0105, -0.023, 0.0020, 0.035), (0.0104, -0.006, 0.0020, 0.035),
    (0.0102, 0.028, 0.0020, 0.035), (0.0109, 0.029, 0.0020, 0.035), (0.0112, 0.066, 0.0020, 0.035),
    (0.0111, 0.053, 0.0020, 0.035), (0.0115, 0.052, 0.0021, 0.036), (0.0117, 0.060, 0.0021, 0.036),
    (0.0122, 0.053, 0.0021, 0.036), (0.0120, 0.037, 0.0021, 0.036), (0.0126, 0.041, 0.0021, 0.036),
    (0.0126, 0.027, 0.0021, 0.036), (0.0133, 0.031, 0.0022, 0.037), (0.0138, 0.024, 0.0022, 0.037),
    (0.0142, 0.019, 0.0022, 0.037), (0.0111, 0.014, 0.0020, 0.035), (0.0119, 0.009, 0.0021, 0.036),
    (0.0124, 0.001, 0.0021, 0.036), (0.0133, 0.006, 0.0022, 0.037), (0.0138, -0.001, 0.0022, 0.037),
    (0.0117, -0.008, 0.0021, 0.036), (0.0110, -0.018, 0.0020, 0.035), (0.0161, -0.006, 0.0024, 0.038),
    (0.0167, -0.013, 0.0024, 0.038), (0.0172, -0.001, 0.0025, 0.039), (0.0154, 0.006, 0.0024, 0.038),
    (0.0143, 0.011, 0.0023, 0.038), (0.0114, 0.028, 0.0020, 0.035),
]

APOB_SNPS = [
    (0.2238, 0.122, 0.0072, 0.088), (0.1659, 0.090, 0.0050, 0.064), (0.3458, -0.018, 0.0090, 0.105),
    (0.2052, -0.218, 0.0060, 0.078), (0.1742, -0.051, 0.0030, 0.043), (0.1581, -0.059, 0.0030, 0.033),
    (0.1328, -0.026, 0.0030, 0.035), (0.1163, -0.095, 0.0080, 0.100), (0.0924, -0.184, 0.0080, 0.090),
    (0.0819, -0.134, 0.0125, 0.157), (0.0905, 0.051, 0.0090, 0.098), (0.0953, 0.012, 0.0040, 0.053),
    (0.0889, -0.035, 0.0040, 0.066), (0.0840, -0.020, 0.0030, 0.048), (0.0673, -0.022, 0.0040, 0.070),
    (0.0627, -0.027, 0.0040, 0.045), (0.0592, -0.209, 0.0100, 0.131), (0.0560, -0.243, 0.0100, 0.103),
    (0.0431, -0.162, 0.0040, 0.073), (0.0350, -0.149, 0.0040, 0.049), (0.0315, -0.088, 0.0030, 0.040),
    (0.0329, 0.092, 0.0050, 0.057), (0.0506, 0.084, 0.0040, 0.067), (0.0490, 0.051, 0.0040, 0.055),
    (0.0482, 0.012, 0.0040, 0.050), (0.0466, 0.009, 0.0040, 0.050), (0.0506, 0.002, 0.0040, 0.060),
    (0.0541, -0.001, 0.0040, 0.060), (0.0439, -0.006, 0.0040, 0.050), (0.0525, -0.024, 0.0040, 0.060),
    (0.0504, -0.047, 0.0040, 0.050), (0.0466, -0.032, 0.0040, 0.050), (0.0458, -0.036, 0.0040, 0.050),
    (0.0450, -0.024, 0.0040, 0.050), (0.0404, 0.035, 0.0040, 0.050), (0.0350, 0.042, 0.0040, 0.050),
    (0.0353, 0.025, 0.0040, 0.050), (0.0377, 0.010, 0.0040, 0.050), (0.0331, 0.010, 0.0040, 0.050),
    (0.0299, 0.008, 0.0040, 0.050), (0.0417, -0.061, 0.0040, 0.050), (0.0364, -0.014, 0.0040, 0.050),
    (0.0331, -0.026, 0.0040, 0.050), (0.0337, -0.019, 0.0040, 0.050), (0.0315, -0.035, 0.0040, 0.050),
    (0.0288, -0.035, 0.0040, 0.050), (0.0299, -0.008, 0.0040, 0.050), (0.0261, 0.053, 0.0040, 0.050),
    (0.0221, 0.055, 0.0030, 0.045), (0.0189, 0.044, 0.0030, 0.045), (0.0175, 0.039, 0.0030, 0.045),
    (0.0151, 0.073, 0.0030, 0.045), (0.0156, 0.054, 0.0030, 0.045), (0.0164, 0.049, 0.0030, 0.045),
    (0.0143, 0.031, 0.0030, 0.045), (0.0137, 0.026, 0.0030, 0.045), (0.0202, 0.024, 0.0030, 0.045),
    (0.0215, 0.012, 0.0030, 0.045), (0.0197, 0.019, 0.0030, 0.045), (0.0164, 0.012, 0.0030, 0.045),
    (0.0175, 0.000, 0.0030, 0.045), (0.0135, -0.001, 0.0030, 0.045), (0.0153, -0.005, 0.0030, 0.045),
    (0.0234, 0.009, 0.0030, 0.045), (0.0245, -0.003, 0.0030, 0.045), (0.0202, -0.008, 0.0030, 0.045),
    (0.0191, -0.015, 0.0030, 0.045), (0.0207, -0.025, 0.0030, 0.045), (0.0164, -0.035, 0.0030, 0.045),
    (0.0135, -0.017, 0.0030, 0.045), (0.0132, -0.041, 0.0030, 0.045), (0.0153, -0.055, 0.0030, 0.045),
    (0.0194, -0.059, 0.0030, 0.045), (0.0207, -0.068, 0.0030, 0.045), (0.0215, -0.043, 0.0030, 0.045),
    (0.0242, -0.034, 0.0030, 0.045), (0.0186, -0.039, 0.0030, 0.045), (0.0153, -0.083, 0.0030, 0.045),
    (0.0148, -0.091, 0.0030, 0.045), (0.0132, -0.098, 0.0030, 0.045), (0.0229, -0.015, 0.0030, 0.045),
    (0.0256, -0.005, 0.0030, 0.045),
]

ALL_SNPS = [WEIGHT_SNPS, BMI_SNPS, WBFM_SNPS, WAIST_SNPS, TRUNK_SNPS, BFP_SNPS, APOB_SNPS]

ERR_COLOR = "#BEBEBE"
FONT = "Liberation Sans"

LEG_X, LEG_Y = 3534, 1193
LINE_LEGEND = alt.Legend(
    title="MR Test", orient="none", legendX=LEG_X, legendY=LEG_Y,
    titleFont=FONT, titleFontSize=84, titleFontWeight="normal", titleColor="black",
    titlePadding=29, titleLimit=2000,
    labelFont=FONT, labelFontSize=66, labelColor="black", labelLimit=2000, labelOffset=61,
    symbolType="M-1,1L1,-1", symbolSize=10816, symbolStrokeWidth=5,
    rowPadding=0, padding=0, zindex=2,
)
KEY_LEGEND = alt.Legend(
    title=None, orient="none", legendX=LEG_X - 10, legendY=LEG_Y + 120,
    labelFont=FONT, labelFontSize=66, labelExpr="''", labelOffset=51,
    symbolType="square", symbolSize=15376, symbolStrokeWidth=0, symbolOpacity=1,
    rowPadding=0, padding=0, zindex=1,
)


def make_panel(k):
    xs = alt.Scale(domain=X_DOMAINS[k], nice=False, zero=False)
    ys = alt.Scale(domain=Y_DOMAINS[k], nice=False, zero=False)
    xax = alt.Axis(values=X_TICKS[k], format=X_FORMATS[k], title=X_TITLES[k])
    yax = alt.Axis(values=Y_TICKS[k], title=Y_TITLE,
                   labelExpr="replace(format(datum.value, '.1f'), '\u2212', '-')")

    def X(f):
        return alt.X(f, type="quantitative", scale=xs, axis=xax)

    def Y(f):
        return alt.Y(f, type="quantitative", scale=ys, axis=yax)

    pts = pd.DataFrame(ALL_SNPS[k], columns=["bx", "by", "sx", "sy"])
    pts["xlo"] = pts["bx"] - pts["sx"]
    pts["xhi"] = pts["bx"] + pts["sx"]
    pts["ylo"] = pts["by"] - pts["sy"]
    pts["yhi"] = pts["by"] + pts["sy"]

    x0, x1 = X_DOMAINS[k]
    coefs = [(0.0, IVW_SLOPE[k]), (EGGER_INTERCEPT[k], EGGER_SLOPE[k]), (0.0, WM_SLOPE[k])]
    rows = []
    for m, kid, (a, b) in zip(METHODS, KEY_IDS, coefs):
        rows.append({"method": m, "key": kid, "x": x0, "y": a + b * x0})
        rows.append({"method": m, "key": kid, "x": x1, "y": a + b * x1})
    ldf = pd.DataFrame(rows)

    gx = alt.Chart(pd.DataFrame({"g": X_MINOR[k]})).mark_rule(
        color="white", strokeWidth=1.4).encode(x=X("g"))
    gy = alt.Chart(pd.DataFrame({"g": Y_MINOR[k]})).mark_rule(
        color="white", strokeWidth=1.4).encode(y=Y("g"))
    base = alt.Chart(pts)
    vbar = base.mark_rule(color=ERR_COLOR, strokeWidth=3.5, clip=True).encode(
        x=X("bx"), y=Y("ylo"), y2="yhi")
    hbar = base.mark_rule(color=ERR_COLOR, strokeWidth=3.5, clip=True).encode(
        x=X("xlo"), x2="xhi", y=Y("by"))
    dots = base.mark_circle(size=180, color="black", opacity=1).encode(x=X("bx"), y=Y("by"))
    keys = alt.Chart(ldf).mark_square(opacity=0, size=1).encode(
        x=X("x"), y=Y("y"),
        fill=alt.Fill("key:N", scale=alt.Scale(domain=KEY_IDS, range=KEY_BACKGROUND),
                      legend=KEY_LEGEND))
    lines = alt.Chart(ldf).mark_line(strokeWidth=3, clip=True).encode(
        x=X("x"), y=Y("y"),
        color=alt.Color("method:N", scale=alt.Scale(domain=METHODS, range=METHOD_COLORS),
                        legend=LINE_LEGEND))
    off = 16 if k < 4 else 46
    return alt.layer(gx, gy, vbar, hbar, dots, keys, lines).properties(
        width=1074, height=893,
        title=alt.Title(PANEL_TITLES[k], offset=off))


panels = [make_panel(k) for k in range(7)]

chart = alt.concat(
    *panels, columns=4, spacing={"row": 49, "column": 8}
).properties(
    padding={"left": 2, "top": 0, "right": 0, "bottom": 0}
).configure_view(
    fill="#EBEBEB", strokeWidth=0
).configure_title(
    font="Lato", fontSize=78, fontWeight="bold", color="black", anchor="middle"
).configure_axis(
    domain=False, grid=True, gridColor="white", gridWidth=2.8,
    tickColor="#333333", tickWidth=2, tickSize=9,
    labelFont=FONT, labelFontSize=25, labelColor="#4D4D4D", labelPadding=5,
    titleFont=FONT, titleFontSize=31, titleFontWeight="normal", titleColor="black",
    titlePadding=2,
)

chart.save("out.html", embed_options={"renderer": "svg", "actions": False})
